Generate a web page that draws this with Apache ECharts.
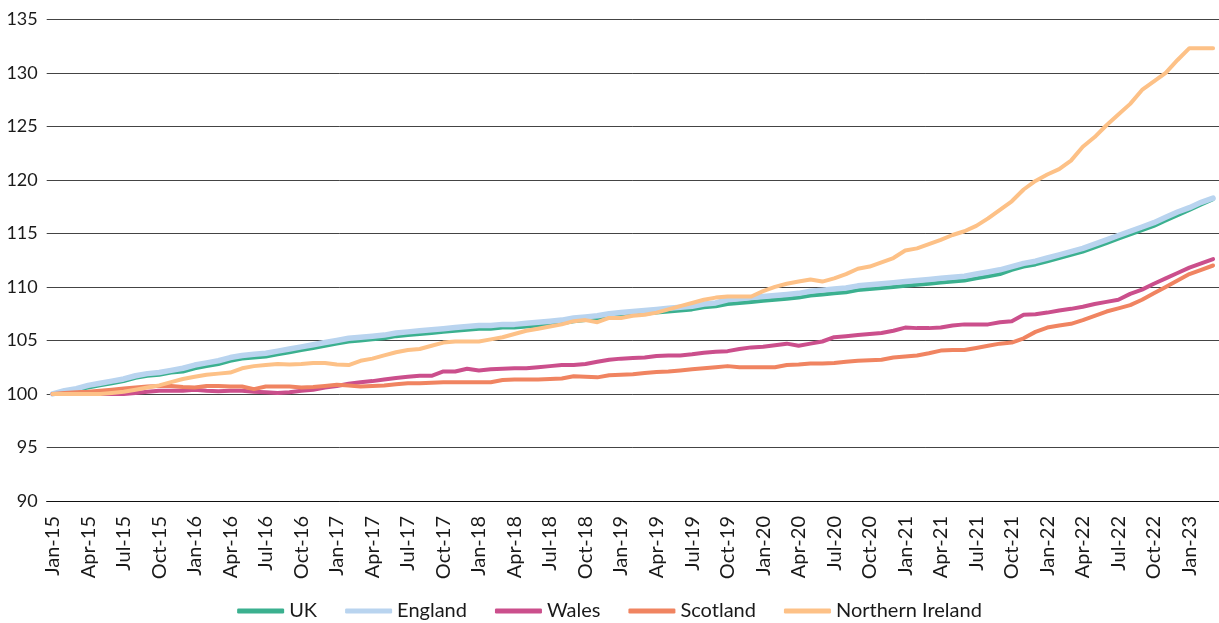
<!DOCTYPE html>
<html>
<head>
<meta charset="utf-8">
<title>House price index by nation</title>
<script src="https://cdn.jsdelivr.net/npm/echarts@6/dist/echarts.min.js"></script>
<style>
  html, body { margin: 0; padding: 0; background: #fff; }
  #chart { width: 1219px; height: 623px; }
</style>
</head>
<body>
<div id="chart"></div>
<script>
// Monthly categories, Jan-15 .. Mar-23
const monthNames = ['Jan','Feb','Mar','Apr','May','Jun','Jul','Aug','Sep','Oct','Nov','Dec'];
const months = [];
for (let y = 15; y <= 23; y++) {
  for (let m = 0; m < 12; m++) {
    if (y === 23 && m > 2) break;
    months.push(monthNames[m] + '-' + y);
  }
}

// Index values (Jan 2015 = 100), one row per year
const uk = [
  100.0, 100.2, 100.4, 100.6, 100.8, 101.0, 101.2, 101.5, 101.7, 101.8, 102.0, 102.1,
  102.4, 102.6, 102.8, 103.1, 103.3, 103.4, 103.5, 103.7, 103.9, 104.1, 104.3, 104.5,
  104.7, 104.9, 105.0, 105.1, 105.2, 105.4, 105.5, 105.6, 105.7, 105.8, 105.9, 106.0,
  106.1, 106.1, 106.2, 106.2, 106.3, 106.4, 106.5, 106.6, 106.8, 106.9, 107.0, 107.2,
  107.3, 107.4, 107.5, 107.6, 107.7, 107.8, 107.9, 108.1, 108.2, 108.4, 108.5, 108.6,
  108.7, 108.8, 108.9, 109.0, 109.2, 109.3, 109.4, 109.5, 109.7, 109.8, 109.9, 110.0,
  110.1, 110.2, 110.3, 110.4, 110.5, 110.6, 110.8, 111.0, 111.2, 111.6, 111.9, 112.1,
  112.4, 112.7, 113.0, 113.3, 113.7, 114.1, 114.5, 114.9, 115.3, 115.7, 116.2, 116.7,
  117.2, 117.7, 118.2
];
const england = [
  100.0, 100.3, 100.5, 100.8, 101.0, 101.2, 101.4, 101.7, 101.9, 102.0, 102.2, 102.4,
  102.7, 102.9, 103.1, 103.4, 103.6, 103.7, 103.8, 104.0, 104.2, 104.4, 104.6, 104.8,
  105.0, 105.2, 105.3, 105.4, 105.5, 105.7, 105.8, 105.9, 106.0, 106.1, 106.2, 106.3,
  106.4, 106.4, 106.5, 106.5, 106.6, 106.7, 106.8, 106.9, 107.1, 107.2, 107.3, 107.5,
  107.6, 107.7, 107.8, 107.9, 108.0, 108.1, 108.2, 108.4, 108.5, 108.8, 108.9, 109.0,
  109.1, 109.2, 109.3, 109.4, 109.6, 109.7, 109.8, 109.9, 110.1, 110.2, 110.3, 110.4,
  110.5, 110.6, 110.7, 110.8, 110.9, 111.0, 111.2, 111.4, 111.6, 111.9, 112.2, 112.4,
  112.7, 113.0, 113.3, 113.6, 114.0, 114.4, 114.8, 115.2, 115.6, 116.0, 116.5, 117.0,
  117.4, 117.9, 118.3
];
const wales = [
  100.0, 100.0, 100.0, 100.0, 100.0, 100.0, 100.0, 100.1, 100.2, 100.3, 100.3, 100.3,
  100.4, 100.3, 100.25, 100.3, 100.3, 100.2, 100.15, 100.1, 100.15, 100.3, 100.4, 100.6,
  100.75, 100.95, 101.1, 101.2, 101.35, 101.5, 101.6, 101.7, 101.7, 102.1, 102.1, 102.35,
  102.2, 102.3, 102.35, 102.4, 102.4, 102.5, 102.6, 102.7, 102.7, 102.8, 103.0, 103.2,
  103.3, 103.35, 103.4, 103.55, 103.6, 103.6, 103.7, 103.85, 103.95, 104.0, 104.2, 104.35,
  104.4, 104.55, 104.7, 104.5, 104.7, 104.9, 105.3, 105.4, 105.5, 105.6, 105.7, 105.9,
  106.2, 106.15, 106.15, 106.2, 106.4, 106.5, 106.5, 106.5, 106.7, 106.8, 107.4, 107.45,
  107.6, 107.8, 107.95, 108.15, 108.4, 108.6, 108.8, 109.35, 109.75, 110.3, 110.8, 111.3,
  111.8, 112.2, 112.6
];
const scotland = [
  100.0, 100.1, 100.15, 100.2, 100.3, 100.4, 100.5, 100.6, 100.7, 100.75, 100.75, 100.65,
  100.6, 100.75, 100.75, 100.7, 100.7, 100.45, 100.7, 100.7, 100.7, 100.6, 100.65, 100.75,
  100.85, 100.8, 100.7, 100.75, 100.8, 100.9, 101.0, 101.0, 101.05, 101.1, 101.1, 101.1,
  101.1, 101.1, 101.3, 101.35, 101.35, 101.35, 101.4, 101.45, 101.65, 101.6, 101.55, 101.75,
  101.8, 101.85, 101.95, 102.05, 102.1, 102.2, 102.3, 102.4, 102.5, 102.6, 102.5, 102.5,
  102.5, 102.5, 102.7, 102.75, 102.85, 102.85, 102.9, 103.0, 103.1, 103.15, 103.2, 103.4,
  103.5, 103.6, 103.8, 104.05, 104.1, 104.1, 104.3, 104.5, 104.7, 104.8, 105.2, 105.8,
  106.2, 106.4, 106.55, 106.9, 107.3, 107.7, 108.0, 108.3, 108.8, 109.4, 110.0, 110.6,
  111.2, 111.6, 112.0
];
const northernIreland = [
  100.0, 100.0, 100.0, 100.0, 100.0, 100.1, 100.2, 100.4, 100.6, 100.8, 101.1, 101.4,
  101.6, 101.8, 101.9, 102.0, 102.4, 102.6, 102.7, 102.8, 102.75, 102.8, 102.9, 102.9,
  102.75, 102.7, 103.1, 103.3, 103.6, 103.9, 104.1, 104.2, 104.5, 104.8, 104.9, 104.9,
  104.9, 105.1, 105.3, 105.6, 105.9, 106.1, 106.3, 106.5, 106.8, 106.9, 106.7, 107.1,
  107.1, 107.3, 107.4, 107.6, 107.9, 108.2, 108.5, 108.8, 109.0, 109.1, 109.1, 109.1,
  109.6, 110.0, 110.3, 110.5, 110.7, 110.5, 110.8, 111.2, 111.7, 111.9, 112.3, 112.7,
  113.4, 113.6, 114.0, 114.4, 114.85, 115.2, 115.7, 116.4, 117.2, 118.0, 119.1, 119.9,
  120.5, 121.0, 121.8, 123.1, 124.0, 125.1, 126.1, 127.1, 128.4, 129.2, 130.0, 131.2,
  132.3, 132.3, 132.3
];

const seriesNames = ['UK', 'England', 'Wales', 'Scotland', 'Northern Ireland'];
const seriesData = [uk, england, wales, scotland, northernIreland];
const seriesColors = ['#3bb08f', '#b9d4ef', '#cb4f8c', '#f08461', '#fdc187'];
const seriesWidths = [4, 5.5, 4, 4, 4];

const yTicks = { min: 90, max: 135, interval: 5 };

const FONT = 'Lato';
const chart = echarts.init(document.getElementById('chart'), null, { renderer: 'canvas' });

chart.setOption({
  backgroundColor: '#ffffff',
  animation: false,
  textStyle: { fontFamily: FONT },
  grid: { left: 46.7, right: -3.6, top: 19.3, bottom: 122 },
  legend: {
    bottom: -3,
    left: 'center',
    icon: 'roundRect',
    itemWidth: 47,
    itemHeight: 5,
    itemGap: 28,
    textStyle: { fontFamily: FONT, fontSize: 20, color: '#1a1a1a' },
    data: seriesNames
  },
  xAxis: {
    type: 'category',
    data: months,
    boundaryGap: true,
    axisLine: { lineStyle: { color: '#111', width: 1 } },
    axisTick: { interval: 2, length: 6, lineStyle: { color: '#111' } },
    axisLabel: {
      interval: 2,
      rotate: 90,
      margin: 15,
      fontFamily: FONT,
      fontSize: 20,
      color: '#1a1a1a'
    },
    splitLine: { show: false }
  },
  yAxis: {
    type: 'value',
    min: yTicks.min,
    max: yTicks.max,
    interval: yTicks.interval,
    axisLine: { show: false },
    axisTick: { show: false },
    axisLabel: { margin: 9, fontFamily: FONT, fontSize: 18, color: '#1a1a1a' },
    splitLine: { lineStyle: { color: '#444', width: 1 } }
  },
  series: seriesNames.map((name, i) => ({
    name: name,
    type: 'line',
    data: seriesData[i],
    symbol: 'none',
    smooth: false,
    color: seriesColors[i],
    lineStyle: { width: seriesWidths[i], color: seriesColors[i], cap: 'round', join: 'round' }
  }))
});
</script>
</body>
</html>
